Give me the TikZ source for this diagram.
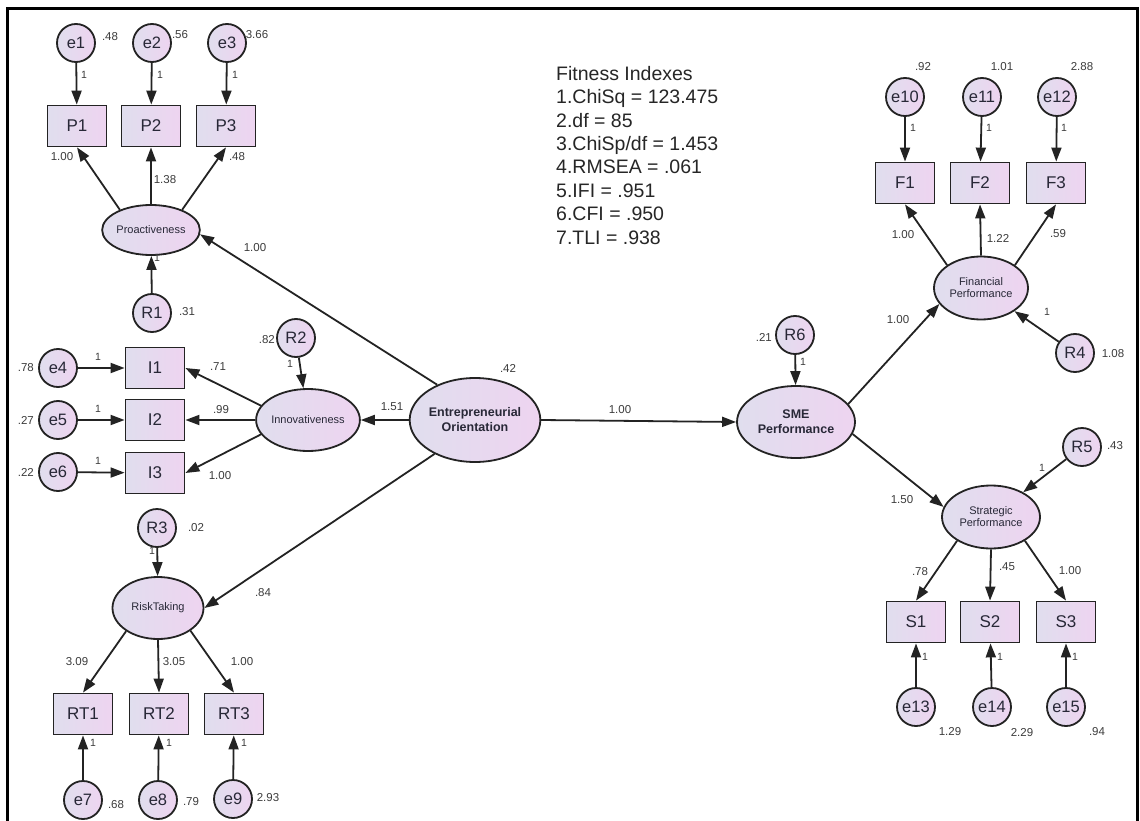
\documentclass[tikz,border=0pt]{standalone}
\usepackage{fontspec}
\setmainfont{Liberation Sans}
\usetikzlibrary{shapes.geometric,arrows.meta}
\definecolor{fl}{RGB}{224,222,238}
\definecolor{fr}{RGB}{238,212,240}
\definecolor{ln}{RGB}{35,35,35}
\definecolor{tx}{RGB}{40,40,55}
\definecolor{lb}{RGB}{60,60,60}
\tikzset{
 shd/.style={draw=ln, line width=1.8pt, left color=fl, right color=fr},
 obs/.style={shd, rectangle, minimum width=59pt, minimum height=41pt, inner sep=0pt, font=\fontsize{17}{17}\selectfont, text=tx},
 err/.style={shd, circle, minimum size=38pt, inner sep=0pt, font=\fontsize{16.5}{16.5}\selectfont, text=tx},
 lat/.style={shd, ellipse, inner sep=0pt, align=center, text=tx, font=\fontsize{11}{12}\selectfont},
 latb/.style={lat, font=\fontsize{12.5}{15}\selectfont\bfseries},
 lbl/.style={font=\fontsize{11.5}{12}\selectfont, text=lb, inner sep=0pt},
 one/.style={font=\fontsize{10.5}{11}\selectfont, text=lb, inner sep=0pt},
 arr/.style={draw=ln, line width=1.8pt, -{Triangle[length=14pt,width=10pt]}},
}
\begin{document}
\begin{tikzpicture}[x=1pt,y=-1pt]
\useasboundingbox[fill=white] (0,0) rectangle (1140,821);
\draw[line width=2.2pt] (7.5,821) -- (7.5,8.5) -- (1137.5,8.5) -- (1137.5,821);

% Fitness indexes
\node[anchor=north west, inner sep=0pt, align=left, font=\fontsize{19.5}{23.4}\selectfont, text=black!85] (fit) at (556,66)
 {Fitness Indexes\\1.ChiSq = 123.475\\2.df = 85\\3.ChiSp/df = 1.453\\4.RMSEA = .061\\5.IFI = .951\\6.CFI = .950\\7.TLI = .938};

% ---------- Proactiveness block
\node[err] (e1) at (76,43) {e1};
\node[err] (e2) at (152,43) {e2};
\node[err] (e3) at (227,43) {e3};
\node[obs] (P1) at (77,126) {P1};
\node[obs] (P2) at (151,126) {P2};
\node[obs] (P3) at (226,126) {P3};
\node[lat, minimum width=94pt, minimum height=50pt] (pro) at (151,230) {Proactiveness};
\node[err] (R1) at (152,313) {R1};

\draw[arr] (e1) -- (P1);
\draw[arr] (e2) -- (P2);
\draw[arr] (e3) -- (P3);
\draw[arr] (pro.147) -- (P1.south);
\draw[arr] (pro.north) -- (P2.south);
\draw[arr] (pro.33) -- (P3.south);
\draw[arr] (R1) -- (pro);

\node[lbl] (l1) at (110,37) {.48};
\node[lbl] (l2) at (180,35) {.56};
\node[lbl] (l3) at (257,35) {3.66};
\node[one] (o1) at (84,75) {1};
\node[one] (o2) at (160,75) {1};
\node[one] (o3) at (235,75) {1};
\node[lbl] (l4) at (62,157) {1.00};
\node[lbl] (l5) at (165,180) {1.38};
\node[lbl] (l6) at (237,157) {.48};
\node[one] (o4) at (157,258) {1};
\node[lbl] (l7) at (187,312) {.31};

% ---------- Innovativeness block
\node[err] (e4) at (58,368) {e4};
\node[err] (e5) at (58,420) {e5};
\node[err] (e6) at (58,472) {e6};
\node[obs] (I1) at (155,368) {I1};
\node[obs] (I2) at (155,420) {I2};
\node[obs] (I3) at (155,473) {I3};
\node[lat, minimum width=90pt, minimum height=62pt] (inn) at (308,420) {Innovativeness};
\node[err] (R2) at (296,338) {R2};

\draw[arr] (e4) -- (I1);
\draw[arr] (e5) -- (I2);
\draw[arr] (e6) -- (I3);
\draw[arr] (inn.163) -- (I1.east);
\draw[arr] (inn.west) -- (I2.east);
\draw[arr] (inn.197) -- (I3.east);
\draw[arr] (R2) -- (inn);

\node[lbl, anchor=east] (l8) at (34,368) {.78};
\node[lbl, anchor=east] (l9) at (34,420) {.27};
\node[lbl, anchor=east] (l10) at (34,472) {.22};
\node[one] (o5) at (98,357) {1};
\node[one] (o6) at (98,409) {1};
\node[one] (o7) at (98,461) {1};
\node[lbl] (l11) at (218,367) {.71};
\node[lbl] (l12) at (221,410) {.99};
\node[lbl] (l13) at (220,476) {1.00};
\node[lbl, anchor=east] (l14) at (275,340) {.82};
\node[one] (o8) at (290,364) {1};

% ---------- Risk taking block
\node[err] (R3) at (157,528) {R3};
\node[lat, minimum width=91pt, minimum height=62pt] (rt) at (158,608) {RiskTaking};
\node[obs] (RT1) at (83,714) {RT1};
\node[obs] (RT2) at (159,714) {RT2};
\node[obs] (RT3) at (234,714) {RT3};
\node[err] (e7) at (83,800) {e7};
\node[err] (e8) at (158,800) {e8};
\node[err] (e9) at (233,799) {e9};

\draw[arr] (R3) -- (rt);
\draw[arr] (rt.216) -- (RT1.north);
\draw[arr] (rt.south) -- (RT2.north);
\draw[arr] (rt.325) -- (RT3.north);
\draw[arr] (e7) -- (RT1);
\draw[arr] (e8) -- (RT2);
\draw[arr] (e9) -- (RT3);

\node[lbl] (l15) at (196,528) {.02};
\node[one] (o9) at (152,551) {1};
\node[lbl] (l16) at (77,662) {3.09};
\node[lbl] (l17) at (174,662) {3.05};
\node[lbl] (l18) at (242,662) {1.00};
\node[one] (o10) at (93,743) {1};
\node[one] (o11) at (169,743) {1};
\node[one] (o12) at (244,743) {1};
\node[lbl] (l19) at (116,805) {.68};
\node[lbl] (l20) at (191,802) {.79};
\node[lbl] (l21) at (268,798) {2.93};

% ---------- Centre
\node[latb, minimum width=120pt, minimum height=84pt] (eo) at (475,420) {Entrepreneurial\\Orientation};
\node[latb, minimum width=118pt, minimum height=72pt] (sme) at (796,422) {SME\\Performance};
\node[err] (R6) at (795,335) {R6};

\draw[arr] (eo.137) -- (pro.-5);
\draw[arr] (eo.west) -- (inn.east);
\draw[arr] (eo.220) -- (rt.east);
\draw[arr] (eo.east) -- (sme.west);
\draw[arr] (R6) -- (sme);

\node[lbl] (l22) at (255,248) {1.00};
\node[lbl] (l23) at (392,407) {1.51};
\node[lbl] (l24) at (263,593) {.84};
\node[lbl] (l25) at (508,368) {.42};
\node[lbl] (l26) at (620,410) {1.00};
\node[lbl, anchor=east] (l27) at (772,337) {.21};
\node[one] (o13) at (803,362) {1};

% ---------- Financial performance
\node[err] (e10) at (905,97) {e10};
\node[err] (e11) at (982,97) {e11};
\node[err] (e12) at (1057,97) {e12};
\node[obs] (F1) at (905,183) {F1};
\node[obs] (F2) at (980,183) {F2};
\node[obs] (F3) at (1056,183) {F3};
\node[lat, minimum width=94pt, minimum height=63pt] (fp) at (981,288) {Financial\\Performance};
\node[err] (R4) at (1075,353) {R4};

\draw[arr] (e10) -- (F1);
\draw[arr] (e11) -- (F2);
\draw[arr] (e12) -- (F3);
\draw[arr] (fp.146) -- (F1.south);
\draw[arr] (fp.north) -- (F2.south);
\draw[arr] (fp.34) -- (F3.south);
\draw[arr] (R4) -- (fp);
\draw[arr] (sme.19) -- (fp.201);

\node[lbl] (l28) at (923,67) {.92};
\node[lbl] (l29) at (1002,67) {1.01};
\node[lbl] (l30) at (1082,67) {2.88};
\node[one] (o14) at (913,128) {1};
\node[one] (o15) at (989,128) {1};
\node[one] (o16) at (1064,128) {1};
\node[lbl] (l31) at (903,235) {1.00};
\node[lbl] (l32) at (998,238) {1.22};
\node[lbl] (l33) at (1058,234) {.59};
\node[lbl] (l34) at (898,320) {1.00};
\node[one] (o17) at (1047,312) {1};
\node[lbl] (l35) at (1113,354) {1.08};

% ---------- Strategic performance
\node[err] (R5) at (1082,447) {R5};
\node[lat, minimum width=98pt, minimum height=63pt] (sp) at (991,517) {Strategic\\Performance};
\node[obs] (S1) at (916,622) {S1};
\node[obs] (S2) at (990,622) {S2};
\node[obs] (S3) at (1066,622) {S3};
\node[err] (e13) at (916,707) {e13};
\node[err] (e14) at (992,707) {e14};
\node[err] (e15) at (1066,707) {e15};

\draw[arr] (R5) -- (sp);
\draw[arr] (sme.348) -- (sp.168);
\draw[arr] (sp.215) -- (S1.north);
\draw[arr] (sp.south) -- (S2.north);
\draw[arr] (sp.325) -- (S3.north);
\draw[arr] (e13) -- (S1);
\draw[arr] (e14) -- (S2);
\draw[arr] (e15) -- (S3);

\node[lbl] (l36) at (1115,446) {.43};
\node[one] (o18) at (1042,468) {1};
\node[lbl] (l37) at (902,500) {1.50};
\node[lbl] (l38) at (920,572) {.78};
\node[lbl] (l39) at (1007,567) {.45};
\node[lbl] (l40) at (1070,571) {1.00};
\node[one] (o19) at (925,657) {1};
\node[one] (o20) at (1000,657) {1};
\node[one] (o21) at (1075,657) {1};
\node[lbl] (l41) at (950,732) {1.29};
\node[lbl] (l42) at (1022,733) {2.29};
\node[lbl] (l43) at (1097,732) {.94};
\end{tikzpicture}
\end{document}
